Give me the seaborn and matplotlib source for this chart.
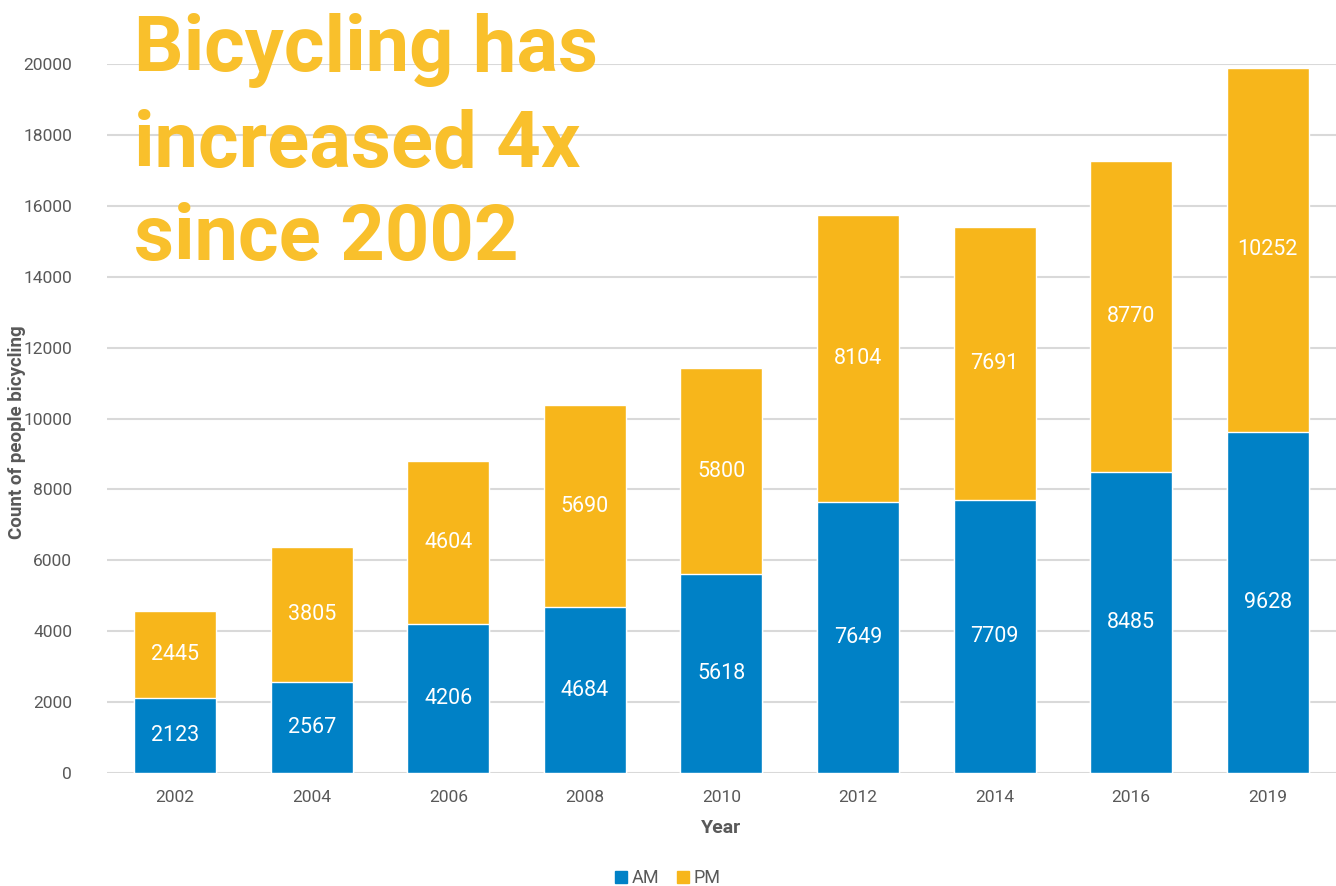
import pandas as pd
import matplotlib.pyplot as plt
from matplotlib.patches import Patch
import seaborn as sns

years = ["2002", "2004", "2006", "2008", "2010", "2012", "2014", "2016", "2019"]
am_counts = [2123, 2567, 4206, 4684, 5618, 7649, 7709, 8485, 9628]
pm_counts = [2445, 3805, 4604, 5690, 5800, 8104, 7691, 8770, 10252]

am_color = "#0081C6"
pm_color = "#F7B61B"
title_color = "#F9C02C"
grey = "#595959"

df = pd.DataFrame({"Year": years, "AM": am_counts, "PM": pm_counts})
df["Total"] = df["AM"] + df["PM"]

sns.set_style("white")
plt.rcParams["font.family"] = ["Roboto", "DejaVu Sans"]

fig = plt.figure(figsize=(13.36, 8.86), dpi=100)
ax = fig.add_axes([0.080, 0.1275, 0.92, 0.8003])

# stacked bars: total first (PM colour), AM drawn over it
sns.barplot(data=df, x="Year", y="Total", color=pm_color, width=0.6,
            saturation=1, ax=ax, zorder=3)
sns.barplot(data=df, x="Year", y="AM", color=am_color, width=0.6,
            saturation=1, ax=ax, zorder=3)

for i, row in df.iterrows():
    ax.text(i, row["AM"] / 2, f"{row['AM']}", ha="center", va="center",
            color="white", fontsize=15.5, zorder=4)
    ax.text(i, row["AM"] + row["PM"] / 2, f"{row['PM']}", ha="center",
            va="center", color="white", fontsize=15.5, zorder=4)

ax.set_xlim(-0.5, 8.5)
ax.set_ylim(0, 20000)
ax.set_yticks(range(0, 20001, 2000))
ax.yaxis.grid(True, color="#D9D9D9", linewidth=1.5, zorder=0)
ax.set_axisbelow(True)
for s in ax.spines.values():
    s.set_visible(False)
ax.tick_params(axis="both", length=0, labelsize=12.5, labelcolor=grey)
ax.tick_params(axis="x", pad=12)
ax.tick_params(axis="y", pad=25)

ax.set_xlabel("Year", fontsize=14, fontweight="bold", color=grey, labelpad=10)
ax.set_ylabel("Count of people bicycling", fontsize=13.5, fontweight="bold",
              color=grey)
ax.yaxis.set_label_coords(-0.066, 0.48)

fig.text(0.1, 0.985, "Bicycling has\nincreased 4x\nsince 2002",
         ha="left", va="top", color=title_color, fontsize=56,
         fontweight="bold", linespacing=1.34)

handles = [Patch(color=am_color, label="AM"), Patch(color=pm_color, label="PM")]
fig.legend(handles=handles, loc="lower center", ncol=2, frameon=False,
           bbox_to_anchor=(0.5, -0.02), handlelength=0.65, handleheight=0.65,
           handletextpad=0.25, columnspacing=1.0, fontsize=13, labelcolor=grey)

fig.savefig("out.png", dpi=100)
